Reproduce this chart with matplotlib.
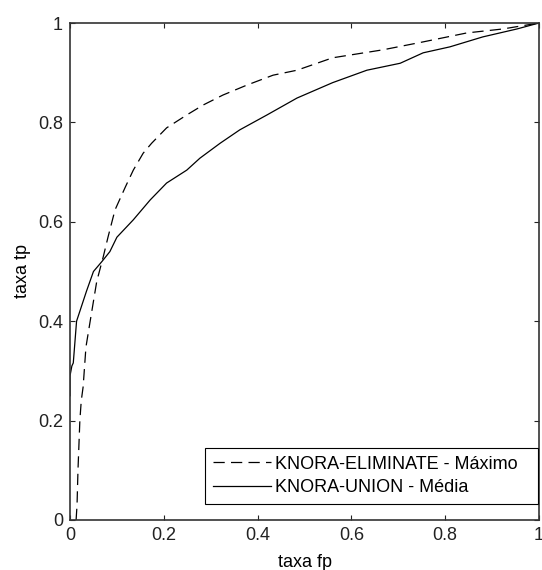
import matplotlib
matplotlib.use("Agg")
import matplotlib.pyplot as plt

# ROC curve points (false positive rate, true positive rate)
elim_fp = [0.013, 0.015, 0.017, 0.021, 0.024, 0.028, 0.034, 0.043, 0.057, 0.071,
           0.081, 0.096, 0.118, 0.135, 0.156, 0.174, 0.206, 0.249, 0.284, 0.326,
           0.377, 0.433, 0.484, 0.560, 0.667, 0.753, 0.846, 0.923, 1.000]
elim_tp = [0.000, 0.030, 0.100, 0.200, 0.240, 0.268, 0.348, 0.400, 0.480, 0.530,
           0.569, 0.624, 0.670, 0.704, 0.738, 0.758, 0.789, 0.815, 0.835, 0.855,
           0.875, 0.895, 0.905, 0.930, 0.946, 0.962, 0.980, 0.988, 1.000]

union_fp = [0.000, 0.000, 0.004, 0.007, 0.014, 0.035, 0.050, 0.068, 0.085, 0.100,
            0.135, 0.171, 0.206, 0.249, 0.277, 0.320, 0.362, 0.420, 0.484, 0.560,
            0.633, 0.704, 0.753, 0.810, 0.880, 0.953, 1.000]
union_tp = [0.250, 0.290, 0.310, 0.316, 0.400, 0.460, 0.500, 0.520, 0.540, 0.569,
            0.604, 0.644, 0.678, 0.704, 0.728, 0.758, 0.785, 0.815, 0.849, 0.880,
            0.905, 0.919, 0.940, 0.952, 0.972, 0.988, 1.000]

labels = ["KNORA-ELIMINATE - Máximo", "KNORA-UNION - Média"]
ticks = [0, 0.2, 0.4, 0.6, 0.8, 1]
tick_labels = ["0", "0.2", "0.4", "0.6", "0.8", "1"]

plt.rcParams["font.family"] = ["Liberation Sans", "DejaVu Sans"]
FS = 13

fig = plt.figure(figsize=(5.42, 5.70), dpi=100)
ax = fig.add_axes([70 / 542, 50 / 570, 469 / 542, 497 / 570])

ax.plot(elim_fp, elim_tp, color="black", lw=0.9, ls=(0, (9, 5)), label=labels[0])
ax.plot(union_fp, union_tp, color="black", lw=0.9, ls="-", label=labels[1])

ax.set_xlim(0, 1)
ax.set_ylim(0, 1)
ax.set_xticks(ticks)
ax.set_xticklabels(tick_labels)
ax.set_yticks(ticks)
ax.set_yticklabels(tick_labels)
ax.tick_params(direction="in", top=True, right=True, length=3.6, width=0.8,
               labelsize=FS, colors="#222222", pad=5)
for s in ax.spines.values():
    s.set_linewidth(1.2)
    s.set_color("#333333")

ax.set_xlabel("taxa fp", fontsize=FS, labelpad=7)
ax.set_ylabel("taxa tp", fontsize=FS, labelpad=5)

leg = ax.legend(loc="lower left", bbox_to_anchor=(0.288, 0.032, 0.71, 0.115),
                mode="expand", fontsize=FS, frameon=True, fancybox=False,
                edgecolor="black", framealpha=1, borderpad=0.45, handlelength=3.2,
                handletextpad=0.2, labelspacing=0.35, borderaxespad=0)
leg.get_frame().set_linewidth(0.8)

fig.savefig("out.png", dpi=100)
